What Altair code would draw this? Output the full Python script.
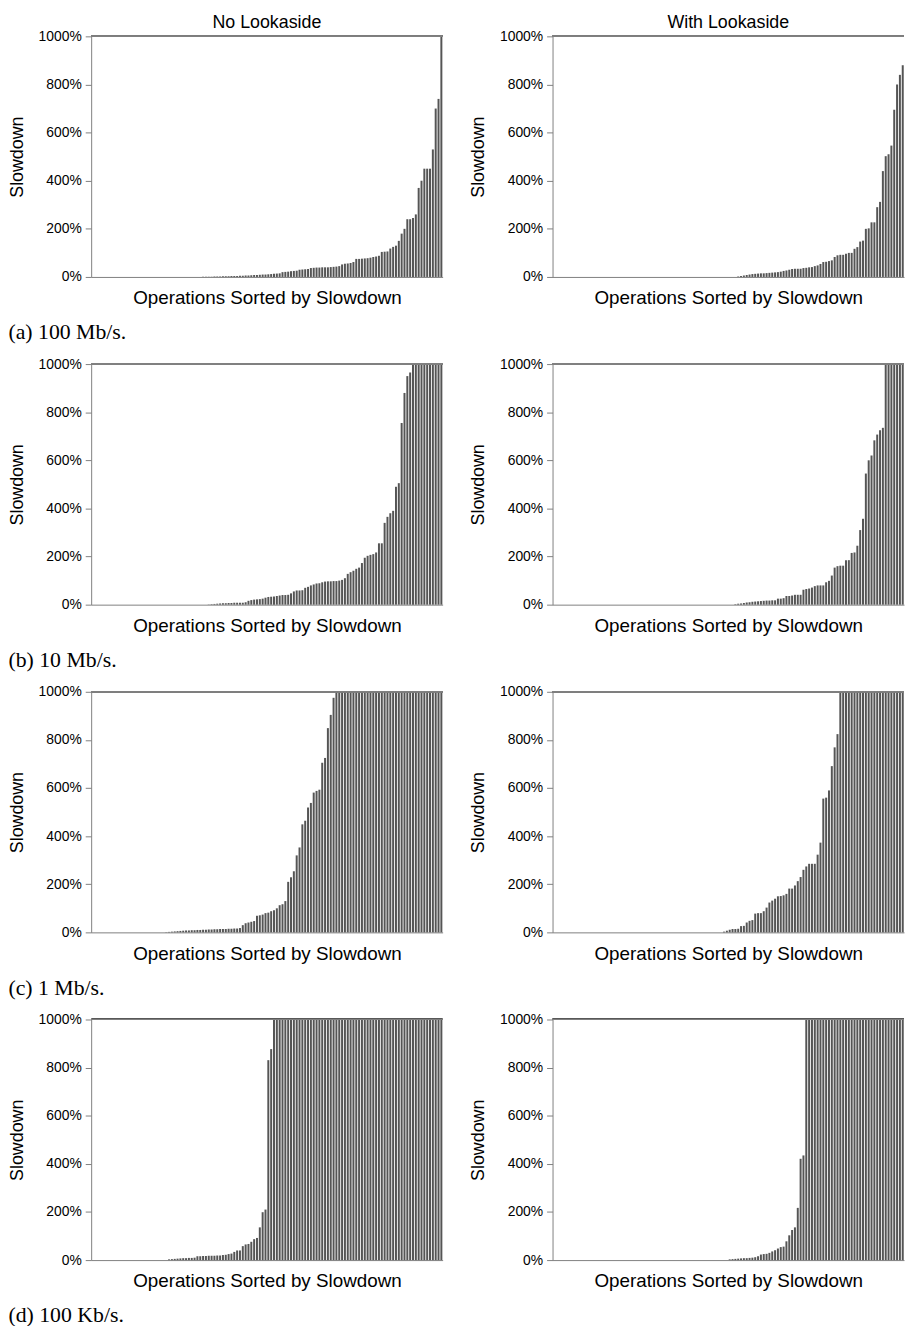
import altair as alt
import pandas as pd

N_OPS = 124
ROW_LABELS = ["(a) 100 Mb/s.", "(b) 10 Mb/s.", "(c) 1 Mb/s.", "(d) 100 Kb/s."]
COL_LABELS = ["No Lookaside", "With Lookaside"]
Y_TICKS = [0, 100, 200, 300, 400, 500, 600, 700, 800, 900, 1000]

# Non-zero slowdowns (%) of each panel, largest first.
# All remaining operations of a panel have 0% slowdown.
a_no = [1000, 740, 700, 530, 450, 450, 450, 400, 370, 260,
        245, 240, 240, 200, 180, 150, 130, 125, 118, 106,
        105, 104, 88, 85, 83, 80, 78, 77, 76, 75,
        75, 62, 58, 56, 55, 52, 45, 43, 42, 41,
        40, 40, 40, 39, 39, 38, 37, 33, 32, 31,
        30, 26, 25, 24, 22, 21, 20, 15, 14, 13,
        12, 11, 10, 10, 9, 8, 8, 7, 6, 6,
        5, 5, 4, 4, 4, 3, 3, 3, 2, 2,
        2, 1, 1, 1, 1]
a_with = [880, 840, 800, 695, 546, 510, 502, 440, 312, 290,
          227, 227, 202, 200, 151, 147, 124, 117, 100, 100,
          96, 92, 92, 90, 83, 69, 66, 63, 62, 54,
          48, 45, 41, 40, 38, 37, 34, 34, 34, 33,
          30, 27, 25, 22, 20, 19, 18, 17, 16, 15,
          15, 14, 13, 12, 10, 8, 6, 4, 2]
b_no = [1000, 1000, 1000, 1000, 1000, 1000, 1000, 1000, 1000, 1000,
        1000, 965, 950, 880, 755, 505, 490, 390, 380, 365,
        340, 255, 255, 217, 210, 207, 203, 195, 173, 154,
        149, 141, 135, 128, 110, 103, 100, 98, 98, 97,
        97, 96, 93, 89, 88, 84, 80, 74, 70, 60,
        59, 59, 55, 47, 41, 40, 40, 38, 36, 34,
        33, 32, 29, 25, 23, 22, 21, 19, 16, 10,
        8, 8, 8, 8, 7, 7, 6, 6, 5, 4,
        3, 2, 1]
b_with = [1000, 1000, 1000, 1000, 1000, 1000, 1000, 735, 725, 707,
          683, 620, 600, 545, 357, 310, 245, 217, 215, 185,
          185, 162, 162, 160, 154, 121, 99, 93, 80, 80,
          80, 77, 71, 67, 65, 62, 41, 41, 41, 38,
          36, 36, 27, 25, 25, 18, 18, 17, 17, 16,
          15, 14, 13, 12, 10, 9, 7, 5, 4, 2]
c_no = [1000, 1000, 1000, 1000, 1000, 1000, 1000, 1000, 1000, 1000,
        1000, 1000, 1000, 1000, 1000, 1000, 1000, 1000, 1000, 1000,
        1000, 1000, 1000, 1000, 1000, 1000, 1000, 1000, 1000, 1000,
        1000, 1000, 1000, 1000, 1000, 1000, 1000, 1000, 975, 904,
        849, 725, 705, 593, 588, 581, 538, 519, 464, 449,
        353, 320, 254, 229, 210, 130, 117, 113, 100, 92,
        88, 82, 80, 74, 71, 69, 47, 44, 41, 38,
        30, 18, 16, 16, 15, 15, 14, 14, 14, 13,
        13, 12, 12, 11, 11, 10, 10, 9, 9, 8,
        8, 7, 6, 5, 4, 3, 2, 1]
c_with = [1000, 1000, 1000, 1000, 1000, 1000, 1000, 1000, 1000, 1000,
          1000, 1000, 1000, 1000, 1000, 1000, 1000, 1000, 1000, 1000,
          1000, 1000, 1000, 824, 769, 691, 590, 560, 556, 373,
          323, 285, 285, 285, 274, 260, 230, 213, 195, 182,
          182, 160, 154, 151, 150, 140, 132, 124, 103, 88,
          80, 80, 78, 51, 48, 41, 27, 26, 15, 14,
          14, 11, 7, 3]
d_no = [1000, 1000, 1000, 1000, 1000, 1000, 1000, 1000, 1000, 1000,
        1000, 1000, 1000, 1000, 1000, 1000, 1000, 1000, 1000, 1000,
        1000, 1000, 1000, 1000, 1000, 1000, 1000, 1000, 1000, 1000,
        1000, 1000, 1000, 1000, 1000, 1000, 1000, 1000, 1000, 1000,
        1000, 1000, 1000, 1000, 1000, 1000, 1000, 1000, 1000, 1000,
        1000, 1000, 1000, 1000, 1000, 1000, 1000, 1000, 1000, 1000,
        877, 831, 210, 199, 136, 92, 87, 76, 67, 65,
        58, 40, 40, 34, 27, 25, 22, 21, 19, 19,
        18, 18, 18, 17, 17, 16, 16, 10, 9, 9,
        8, 8, 7, 6, 5, 4, 3]
d_with = [1000, 1000, 1000, 1000, 1000, 1000, 1000, 1000, 1000, 1000,
          1000, 1000, 1000, 1000, 1000, 1000, 1000, 1000, 1000, 1000,
          1000, 1000, 1000, 1000, 1000, 1000, 1000, 1000, 1000, 1000,
          1000, 1000, 1000, 1000, 1000, 435, 421, 217, 136, 125,
          103, 78, 56, 54, 48, 41, 36, 30, 26, 25,
          23, 16, 12, 10, 9, 8, 8, 7, 6, 5,
          4, 3]

PANELS = [[a_no, a_with], [b_no, b_with], [c_no, c_with], [d_no, d_with]]

SANS = "Liberation Sans"
SERIF = "Liberation Serif"
GREY = "#808080"
PLOT_W = 355
PLOT_H = 243


def sorted_ops(nonzero):
    zeros = [0] * (N_OPS - len(nonzero))
    return zeros + list(reversed(nonzero))


def panel(values, row, col):
    df = pd.DataFrame({"op": list(range(N_OPS)), "slowdown": sorted_ops(values)})
    x = alt.X(
        "op:O",
        title="Operations Sorted by Slowdown",
        sort="ascending",
        scale=alt.Scale(paddingInner=0.3, paddingOuter=0.1),
        axis=alt.Axis(labels=False, ticks=False, domainColor=GREY,
                      titleFont=SANS, titleFontSize=19, titleFontWeight="normal",
                      titleColor="black", titlePadding=12),
    )
    y = alt.Y(
        "slowdown:Q",
        title="Slowdown",
        scale=alt.Scale(domain=[0, 1000], nice=False, clamp=True),
        axis=alt.Axis(values=Y_TICKS,
                      labelExpr="datum.value % 200 == 0 ? datum.value + '%' : ''",
                      labelFont=SANS, labelFontSize=14, labelColor="black",
                      labelPadding=4, tickSize=6, tickColor=GREY, domainColor=GREY,
                      titleFont=SANS, titleFontSize=18, titleFontWeight="normal",
                      titleColor="black", titlePadding=12, grid=False),
    )
    bars = alt.Chart(df).mark_bar(color="#555555").encode(x=x, y=y)
    top = alt.Chart(df).mark_rule(color=GREY, strokeWidth=1).encode(y=alt.datum(1000))
    layers = [bars, top]
    if row == 0:
        head = alt.Chart(pd.DataFrame({"label": [COL_LABELS[col]]})).mark_text(
            font=SANS, fontSize=18, color="black", align="center", baseline="middle"
        ).encode(text="label:N", x=alt.value(PLOT_W / 2), y=alt.value(-13))
        layers.append(head)
    return alt.layer(*layers).properties(width=PLOT_W, height=PLOT_H)


rows = []
for r, pair in enumerate(PANELS):
    row = alt.hconcat(panel(pair[0], r, 0), panel(pair[1], r, 1), spacing=26).properties(
        title=alt.Title(ROW_LABELS[r], orient="bottom", anchor="start", font=SERIF,
                        fontSize=22, fontWeight="normal", color="black", offset=15)
    )
    rows.append(row)

chart = alt.vconcat(*rows, spacing=14).properties(
    padding={"left": 0, "top": 0, "right": 0, "bottom": 0}
).configure_view(stroke=None)

chart.save("out.html", embed_options={"renderer": "svg", "actions": False})
